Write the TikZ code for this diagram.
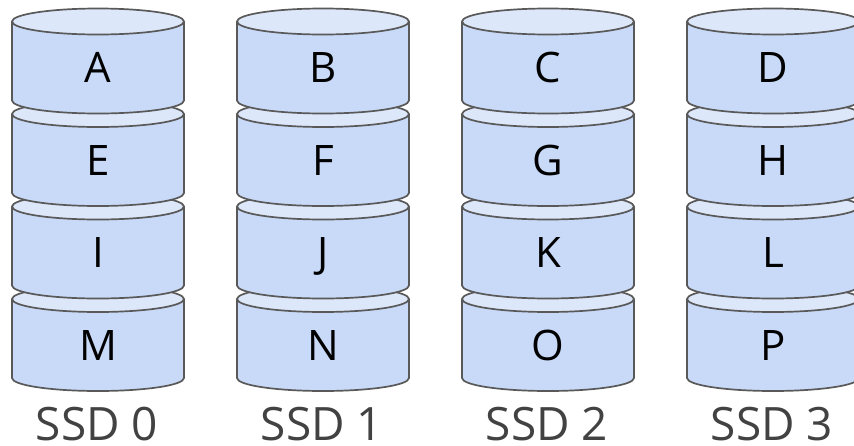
\documentclass[tikz,border=0pt]{standalone}
\usepackage{fontspec}
\setmainfont{Open Sans}
\definecolor{bodyblue}{HTML}{C9DAF8}
\definecolor{capblue}{HTML}{DDE7FA}
\definecolor{rimgray}{HTML}{595959}
\definecolor{captiongray}{HTML}{424242}
\tikzset{
  rim/.style={draw=rimgray, line width=1.7pt, line join=round},
  blocklabel/.style={anchor=base, text=black, font=\fontsize{42}{42}\selectfont, inner sep=0pt},
  ssdlabel/.style={anchor=base, text=captiongray, font=\fontsize{46}{46}\selectfont, inner sep=0pt}
}
% one stacked disk slice: centre x, y of the top ellipse centre, letter, node name
\newcommand\drumslab[4]{%
  \pgfmathsetmacro\rx{86}\pgfmathsetmacro\ry{13}\pgfmathsetmacro\hh{79}%
  \path[rim, fill=bodyblue] (#1-\rx,#2) -- (#1-\rx,#2+\hh)
     arc[start angle=180, end angle=360, x radius=\rx, y radius=-\ry]
     -- (#1+\rx,#2) -- cycle;
  \path[rim, fill=capblue] (#1,#2) ellipse[x radius=\rx, y radius=\ry];
  \node[blocklabel] (#4) at (#1,#2+61) {#3};
}
\begin{document}
\begin{tikzpicture}[x=1pt, y=-1pt]
\useasboundingbox (0,0) rectangle (854,445);
\foreach \col/\a/\b/\c/\d in {0/A/E/I/M, 1/B/F/J/N, 2/C/G/K/O, 3/D/H/L/P}{
  \pgfmathsetmacro\cx{98+225*\col}
  \drumslab{\cx}{299}{\d}{blk-\d}
  \drumslab{\cx}{206.5}{\c}{blk-\c}
  \drumslab{\cx}{114}{\b}{blk-\b}
  \drumslab{\cx}{21.5}{\a}{blk-\a}
  \node[ssdlabel] (ssd-\col) at (\cx-1,440.5) {SSD \col};
}
\end{tikzpicture}
\end{document}
